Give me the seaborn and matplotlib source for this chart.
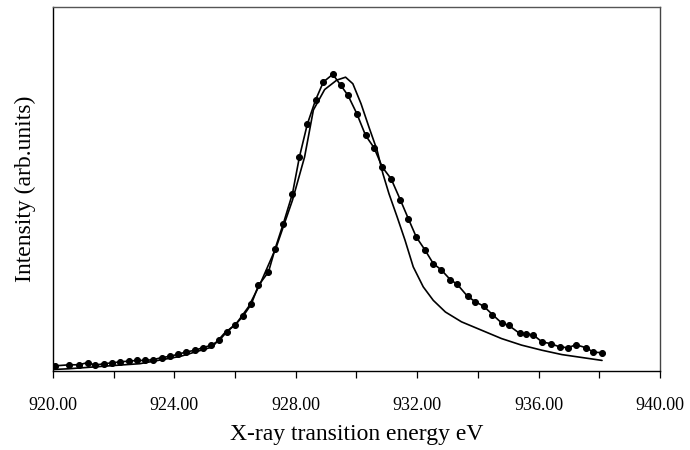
import matplotlib
matplotlib.use("Agg")
import matplotlib.pyplot as plt
import seaborn as sns
import pandas as pd
from matplotlib.ticker import MultipleLocator, FixedLocator, FormatStrFormatter

# Measured spectrum (dots)
exp_energy = [920.05, 920.54, 920.85, 921.14, 921.40, 921.67, 921.93, 922.20, 922.49, 922.77,
              923.02, 923.30, 923.59, 923.85, 924.12, 924.38, 924.68, 924.94, 925.22, 925.48,
              925.72, 926.00, 926.26, 926.53, 926.77, 927.10, 927.32, 927.59, 927.89, 928.12,
              928.38, 928.65, 928.91, 929.22, 929.48, 929.72, 930.01, 930.30, 930.58, 930.85,
              931.14, 931.44, 931.71, 931.97, 932.26, 932.53, 932.79, 933.09, 933.32, 933.66,
              933.92, 934.19, 934.48, 934.78, 935.02, 935.38, 935.60, 935.81, 936.11, 936.40,
              936.70, 936.97, 937.23, 937.56, 937.80, 938.09]
exp_intensity = [1.4, 1.7, 1.7, 2.3, 1.6, 2.0, 2.2, 2.5, 2.7, 2.9,
                 2.9, 3.1, 3.7, 4.0, 4.6, 5.2, 5.7, 6.4, 7.1, 8.4,
                 10.7, 12.7, 15.0, 18.3, 23.5, 27.2, 33.6, 40.5, 48.7, 58.8,
                 67.8, 74.4, 79.4, 81.5, 78.5, 75.7, 70.7, 64.7, 61.3, 56.0,
                 52.8, 47.1, 41.8, 36.8, 33.2, 29.5, 27.8, 25.1, 23.8, 20.5,
                 19.0, 17.8, 15.5, 13.2, 12.5, 10.3, 10.1, 10.0, 8.0, 7.5,
                 6.6, 6.4, 7.2, 6.4, 5.2, 5.0]

# Calculated spectrum (solid line)
calc_energy = [920.0, 920.5, 921.0, 921.5, 922.0, 922.86, 924.19, 925.25, 925.64, 926.04,
               926.44, 926.83, 927.36, 927.89, 928.29, 928.58, 928.95, 929.35, 929.64, 929.88,
               930.15, 930.41, 930.68, 930.87, 931.07, 931.34, 931.60, 931.87, 932.20, 932.53,
               932.93, 933.46, 934.12, 934.78, 935.44, 936.11, 936.77, 937.43, 938.09]
calc_intensity = [0.4, 0.6, 0.9, 1.2, 1.5, 2.0, 4.0, 6.6, 10.3, 13.0,
                  17.6, 24.0, 34.1, 46.9, 58.8, 71.7, 77.3, 79.9, 80.7, 78.9,
                  73.4, 67.0, 60.6, 54.2, 48.7, 42.3, 35.9, 28.6, 23.1, 19.4,
                  16.2, 13.5, 11.2, 8.9, 7.1, 5.7, 4.5, 3.7, 2.9]

x_ticks = [920, 924, 928, 932, 936, 940]
x_label = "X-ray transition energy eV"
y_label = "Intensity (arb.units)"

sns.set_theme(style="white")
plt.rcParams['font.family'] = ['Liberation Serif', 'DejaVu Serif']

df_exp = pd.DataFrame({"E": exp_energy, "I": exp_intensity})
df_calc = pd.DataFrame({"E": calc_energy, "I": calc_intensity})

fig = plt.figure(figsize=(6.9, 4.5), dpi=100)
ax = fig.add_axes([0.0768, 0.1756, 0.8797, 0.809])

sns.lineplot(data=df_calc, x="E", y="I", ax=ax, color="black", linewidth=1.2, sort=False)
sns.lineplot(data=df_exp, x="E", y="I", ax=ax, color="black", linewidth=1.2, sort=False,
             marker="o", markersize=4.3, markeredgecolor="black", markerfacecolor="black")

ax.set_xlim(920, 940)
ax.set_ylim(0, 100)
ax.xaxis.set_major_locator(FixedLocator(x_ticks))
ax.xaxis.set_minor_locator(MultipleLocator(2))
ax.xaxis.set_major_formatter(FormatStrFormatter("%.2f"))
ax.set_yticks([])
ax.tick_params(axis="x", which="both", direction="out", length=5, width=0.9,
               color="black", bottom=True, pad=14, labelsize=13, labelcolor="black")
ax.set_xlabel(x_label, fontsize=17, color="black", labelpad=7)
ax.set_ylabel(y_label, fontsize=17, color="black", labelpad=12)
for side in ["left", "bottom", "top", "right"]:
    ax.spines[side].set_visible(True)
    ax.spines[side].set_color("black")
    ax.spines[side].set_linewidth(1.0)
ax.spines["top"].set_color("#555555")
ax.spines["right"].set_color("#444444")

fig.savefig("out.png", dpi=100)
